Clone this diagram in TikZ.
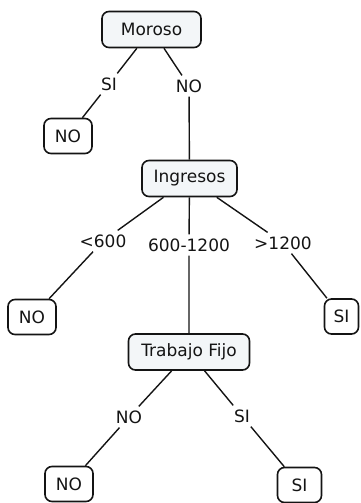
\documentclass[tikz,border=0pt]{standalone}
\usepackage{fontspec}
\setmainfont{DejaVu Sans}
\definecolor{boxfill}{HTML}{F3F6F8}
\definecolor{ink}{HTML}{141414}
\begin{document}
\begin{tikzpicture}[x=1pt,y=-1pt,
  font=\fontsize{17}{20}\selectfont,
  decision/.style={draw=ink, line width=1.6pt, rounded corners=7pt, fill=boxfill,
    minimum height=36pt, inner xsep=8pt, text=ink},
  leaf/.style={draw=ink, line width=1.6pt, rounded corners=7pt, fill=white,
    minimum height=35pt, inner xsep=8pt, text=ink},
  cond/.style={inner xsep=3pt, inner ysep=4pt, text=ink},
  link/.style={draw=ink, line width=1.4pt}]
\useasboundingbox (0,0) rectangle (361,503);

% decision nodes
\node[decision, minimum width=99pt] (moroso)  at (151.5,29.5) {Moroso};
\node[decision, minimum width=95pt] (ingresos) at (189.5,178.5) {Ingresos};
\node[decision, minimum width=121pt] (trabajo) at (189,352) {Trabajo Fijo};

% leaves
\node[leaf, minimum width=48pt] (leafA) at (68,136) {NO};
\node[leaf, minimum width=48pt] (leafB) at (32,317) {NO};
\node[leaf, minimum width=34pt] (leafC) at (341.5,316.5) {SI};
\node[leaf, minimum width=48pt] (leafD) at (69,484) {NO};
\node[leaf, minimum width=44pt] (leafE) at (299.5,485) {SI};

% branch labels
\node[cond] (lSi1) at (109,84) {SI};
\node[cond] (lNo1) at (189,86) {NO};
\node[cond] (lLow) at (103,241) {<600};
\node[cond] (lMid) at (189,245) {600-1200};
\node[cond] (lHigh) at (283,243) {>1200};
\node[cond] (lNo2) at (129,417) {NO};
\node[cond] (lSi2) at (242,416) {SI};

% connectors, each broken by its branch label
\draw[link] (moroso) -- (lSi1) -- (leafA);
\draw[link] (moroso) -- (lNo1) -- (ingresos);
\draw[link] (ingresos) -- (lLow) -- (leafB);
\draw[link] (ingresos) -- (lMid) -- (trabajo);
\draw[link] (ingresos) -- (lHigh) -- (leafC);
\draw[link] (trabajo) -- (lNo2) -- (leafD);
\draw[link] (trabajo) -- (lSi2) -- (leafE);
\end{tikzpicture}
\end{document}
